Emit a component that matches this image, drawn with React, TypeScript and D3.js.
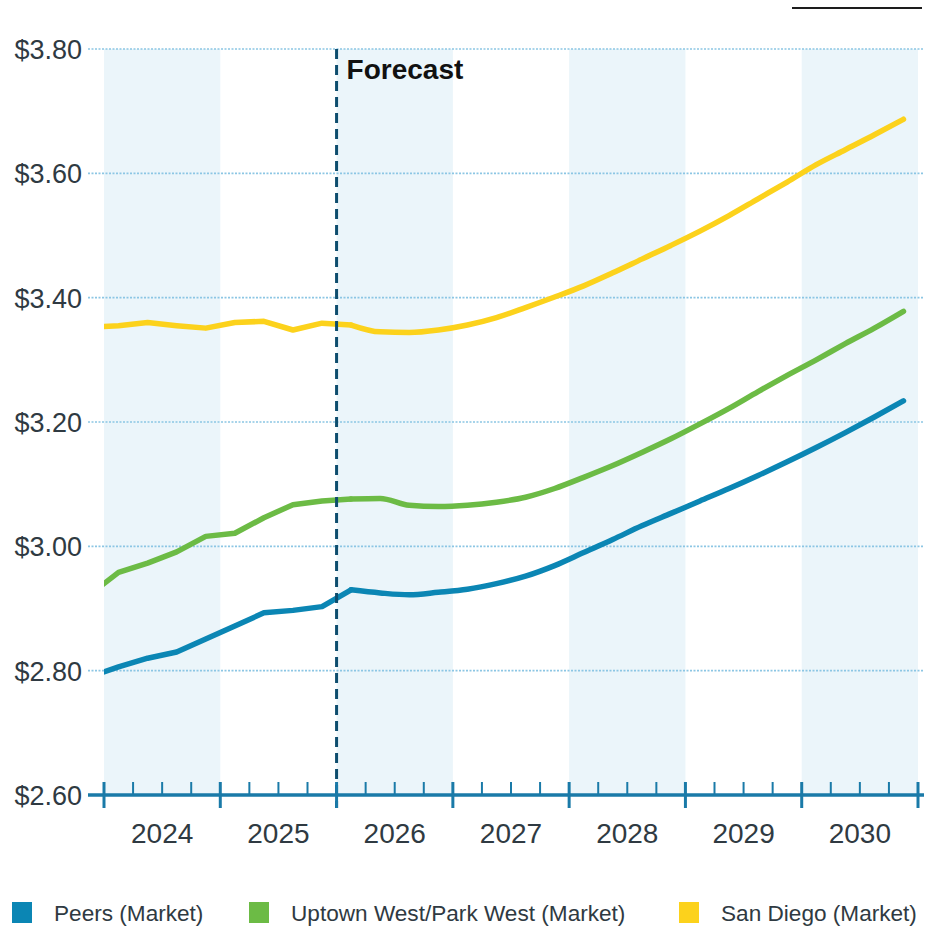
import React from "react";
import * as d3 from "d3";

const quarters = [
  "2023 Q4",
  "2024 Q1", "2024 Q2", "2024 Q3", "2024 Q4",
  "2025 Q1", "2025 Q2", "2025 Q3", "2025 Q4",
  "2026 Q1", "2026 Q2", "2026 Q3", "2026 Q4",
  "2027 Q1", "2027 Q2", "2027 Q3", "2027 Q4",
  "2028 Q1", "2028 Q2", "2028 Q3", "2028 Q4",
  "2029 Q1", "2029 Q2", "2029 Q3", "2029 Q4",
  "2030 Q1", "2030 Q2", "2030 Q3", "2030 Q4",
];

const peers = [
  2.790,
  2.806, 2.820, 2.830, 2.851,
  2.872, 2.893, 2.897, 2.903,
  2.930, 2.925, 2.922, 2.926,
  2.931, 2.940, 2.952, 2.969,
  2.990, 3.011, 3.033, 3.053,
  3.073, 3.093, 3.114, 3.136,
  3.159, 3.183, 3.208, 3.234,
];

const uptown = [
  2.922,
  2.958, 2.973, 2.991, 3.016,
  3.021, 3.046, 3.067, 3.073,
  3.076, 3.077, 3.066, 3.064,
  3.066, 3.071, 3.079, 3.093,
  3.111, 3.130, 3.151, 3.173,
  3.197, 3.222, 3.249, 3.275,
  3.300, 3.326, 3.351, 3.378,
];

const sanDiego = [
  3.352,
  3.355, 3.360, 3.355, 3.351,
  3.360, 3.362, 3.348, 3.359,
  3.356, 3.345, 3.344, 3.348,
  3.356, 3.368, 3.384, 3.401,
  3.419, 3.440, 3.462, 3.484,
  3.507, 3.532, 3.559, 3.586,
  3.614, 3.638, 3.662, 3.687,
];

const years = [2024, 2025, 2026, 2027, 2028, 2029, 2030];
const yTicks = [2.6, 2.8, 3.0, 3.2, 3.4, 3.6, 3.8];
const forecastStart = 2026;
const forecastFirstQuarter = "2026 Q1";

const seriesNames = ["Peers (Market)", "Uptown West/Park West (Market)", "San Diego (Market)"];
const seriesColors = ["#0b86b4", "#6cbb45", "#fcd21c"];
const seriesValues = [peers, uptown, sanDiego];

const W = 926;
const H = 929;
const plotLeft = 104;
const plotRight = 918;
const plotTop = 49;
const plotBottom = 795;

function quarterToYear(q: string): number {
  const [y, qq] = q.split(" Q");
  return +y + (+qq - 0.5) / 4;
}

export default function App() {
  const x = d3.scaleLinear().domain([2024, 2031]).range([plotLeft, plotRight]);
  const y = d3.scaleLinear().domain([2.6, 3.8]).range([plotBottom, plotTop]);
  const font = "'Liberation Sans', Arial, Helvetica, sans-serif";
  const textColor = "#2f3a42";
  const axisColor = "#1a7aa8";

  const lineHist = d3
    .line<[number, number]>()
    .x((d) => x(d[0]))
    .y((d) => y(d[1]))
    .curve(d3.curveLinear);
  const lineFc = d3
    .line<[number, number]>()
    .x((d) => x(d[0]))
    .y((d) => y(d[1]))
    .curve(d3.curveMonotoneX);

  const splitIdx = quarters.indexOf(forecastFirstQuarter);

  const minorTicks: number[] = [];
  years.forEach((yr) => {
    for (let i = 1; i < 4; i++) minorTicks.push(yr + i / 4);
  });
  const majorTicks = [...years, 2031];

  const legendX = [12, 249, 679];

  return (
    <svg
      width={W}
      height={H}
      style={{ position: "absolute", left: 0, top: 0, display: "block", background: "#fff" }}
    >
      <defs>
        <clipPath id="plotClip">
          <rect x={plotLeft} y={0} width={plotRight - plotLeft + 10} height={H} />
        </clipPath>
      </defs>
      <rect x={0} y={0} width={W} height={H} fill="#fff" />
      <line x1={792} x2={922} y1={8} y2={8} stroke="#1d1d1d" strokeWidth={2} />

      {years
        .filter((_, i) => i % 2 === 0)
        .map((yr) => (
          <rect
            key={"band" + yr}
            x={x(yr)}
            y={plotTop}
            width={x(yr + 1) - x(yr)}
            height={plotBottom - plotTop}
            fill="#ebf5fa"
          />
        ))}

      {yTicks
        .filter((t) => t > 2.6)
        .map((t) => (
          <line
            key={"g" + t}
            x1={88}
            x2={924}
            y1={y(t)}
            y2={y(t)}
            stroke="#8cc6e4"
            strokeWidth={1.6}
            strokeDasharray="2 1.5"
          />
        ))}

      {yTicks.map((t) => (
        <text
          key={"yl" + t}
          x={82}
          y={y(t) + 10}
          textAnchor="end"
          fontFamily={font}
          fontSize={27}
          fill={textColor}
        >
          {"$" + t.toFixed(2)}
        </text>
      ))}

      <g clipPath="url(#plotClip)">
        {seriesValues.map((vals, si) => {
          const pts = quarters.map((q, i) => [quarterToYear(q), vals[i]] as [number, number]);
          return (
            <g key={"s" + si}>
              <path
                d={lineHist(pts.slice(0, splitIdx + 1)) || ""}
                fill="none"
                stroke={seriesColors[si]}
                strokeWidth={5.5}
                strokeLinejoin="round"
                strokeLinecap="round"
              />
              <path
                d={lineFc(pts.slice(splitIdx)) || ""}
                fill="none"
                stroke={seriesColors[si]}
                strokeWidth={5.5}
                strokeLinejoin="round"
                strokeLinecap="round"
              />
            </g>
          );
        })}
      </g>

      <line
        x1={x(forecastStart)}
        x2={x(forecastStart)}
        y1={plotTop}
        y2={808}
        stroke="#0d4d6e"
        strokeWidth={3}
        strokeDasharray="10 6"
      />
      <text
        x={x(forecastStart) + 10}
        y={79}
        fontFamily={font}
        fontSize={28}
        fontWeight="bold"
        fill="#111"
      >
        Forecast
      </text>

      <line x1={88} x2={924} y1={plotBottom} y2={plotBottom} stroke={axisColor} strokeWidth={3.5} />
      {minorTicks.map((t) => (
        <line
          key={"mt" + t}
          x1={x(t)}
          x2={x(t)}
          y1={782}
          y2={plotBottom}
          stroke={axisColor}
          strokeWidth={2}
        />
      ))}
      {majorTicks.map((t) => (
        <line
          key={"Mt" + t}
          x1={x(t)}
          x2={x(t)}
          y1={782}
          y2={808}
          stroke={axisColor}
          strokeWidth={3}
        />
      ))}
      {years.map((yr) => (
        <text
          key={"xl" + yr}
          x={x(yr + 0.5)}
          y={843}
          textAnchor="middle"
          fontFamily={font}
          fontSize={28}
          fill={textColor}
        >
          {yr}
        </text>
      ))}

      {seriesNames.map((name, i) => (
        <g key={"lg" + i}>
          <rect x={legendX[i]} y={902} width={20} height={21} fill={seriesColors[i]} />
          <text
            x={legendX[i] + 42}
            y={921}
            fontFamily={font}
            fontSize={22.6}
            fill={textColor}
          >
            {name}
          </text>
        </g>
      ))}
    </svg>
  );
}
